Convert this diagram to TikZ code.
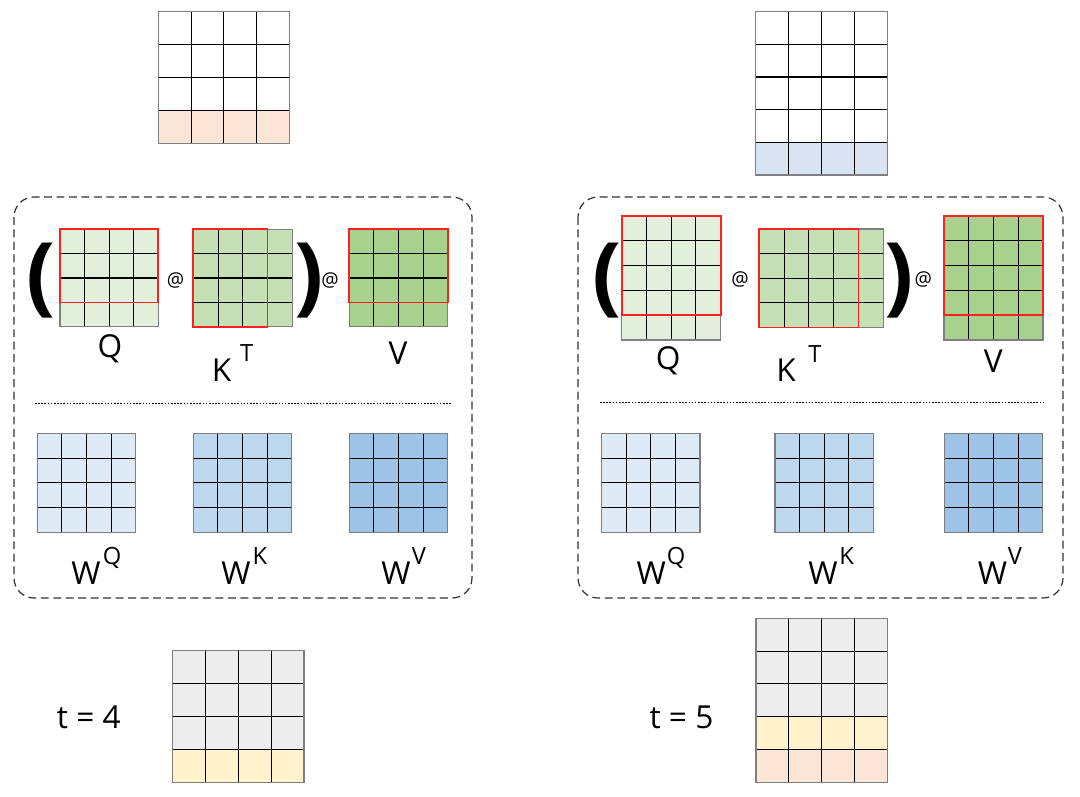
\documentclass[tikz,border=0pt]{standalone}
\usepackage{fontspec}
\setmainfont{Open Sans}
\definecolor{peach}{HTML}{FBE5D6}
\definecolor{lav}{HTML}{DAE3F3}
\definecolor{ylw}{HTML}{FFF2CC}
\definecolor{lgray}{HTML}{EDEDED}
\definecolor{qg}{HTML}{E2EFDA}
\definecolor{kg}{HTML}{C5E0B4}
\definecolor{vg}{HTML}{A9D18E}
\definecolor{wq}{HTML}{DEEBF7}
\definecolor{wk}{HTML}{BDD7EE}
\definecolor{wv}{HTML}{9DC3E6}
\definecolor{bordergray}{HTML}{7F7F7F}
\definecolor{redline}{HTML}{FF2020}
\tikzset{
  gridbg/.style={draw=none,inner sep=0pt,outer sep=0pt},
  gridline/.style={draw=black,line width=0.6pt},
  gridborder/.style={draw=bordergray,line width=0.8pt},
  redbox/.style={draw=redline,line width=1pt},
  dbox/.style={draw=black!80,line width=0.7pt,dash pattern=on 4.5pt off 2.6pt,rounded corners=0.4cm},
  dotline/.style={draw=black,line width=0.8pt,dash pattern=on 0.9pt off 0.9pt},
  biglbl/.style={inner sep=0pt,anchor=base,font=\fontsize{18}{18}\selectfont},
  suplbl/.style={inner sep=0pt,anchor=base,font=\fontsize{13.5}{13.5}\selectfont},
  atlbl/.style={inner sep=0pt,font=\fontsize{11}{11}\selectfont},
  paren/.style={inner sep=0pt,font=\fontsize{49}{49}\selectfont\bfseries},
}
% #1 name, #2 x, #3 y, #4 cols, #5 rows, #6 cell w, #7 cell h, #8 fill, #9 extra fills
\newcommand{\mgrid}[9]{%
  \node[gridbg,fill=#8,minimum width={#4*#6*0.02cm},minimum height={#5*#7*0.02cm},anchor=north west] (#1) at (#2,#3) {};
  #9
  \pgfmathtruncatemacro\ncm{#4-1}%
  \pgfmathtruncatemacro\nrm{#5-1}%
  \foreach \k in {1,...,\ncm} {\draw[gridline] ({#2+\k*#6},#3) -- ({#2+\k*#6},{#3+#5*#7});}
  \foreach \k in {1,...,\nrm} {\draw[gridline] (#2,{#3+\k*#7}) -- ({#2+#4*#6},{#3+\k*#7});}
  \draw[gridborder] (#1.north west) rectangle (#1.south east);
}
\begin{document}
\begin{tikzpicture}[x=0.02cm,y=-0.02cm]
\useasboundingbox (0,0) rectangle (1080,797);
% ---------------- left (t = 4) ----------------
\mgrid{top1}{158.3}{11.7}{4}{4}{32.75}{32.9}{white}{\fill[peach] (158.3,110.4) rectangle (289.3,143.3);}
\draw[dbox] (14,197) rectangle (472,598);
\mgrid{Q1}{60}{229.3}{4}{4}{24.6}{24.35}{qg}{}
\draw[redbox] (Q1.north west) rectangle (158.3,302.4);
\mgrid{K1}{193.3}{229.3}{4}{4}{24.75}{24.35}{kg}{}
\draw[redbox] (K1.north west) rectangle (267.5,326.7);
\mgrid{V1}{349.3}{229.3}{4}{4}{24.6}{24.35}{vg}{}
\draw[redbox] (V1.north west) rectangle (447.7,302.4);
\node[paren] (lp1) at (41.5,281) {(};
\node[paren] (rp1) at (309,281) {)};
\node[atlbl] (at1a) at (175.5,280) {@};
\node[atlbl] (at1b) at (330,280) {@};
\node[biglbl] (q1) at (110,358) {Q};
\node[biglbl] (k1) at (221.7,381.7) {K};
\node[suplbl] (t1) at (246.7,361.7) {T};
\node[biglbl] (v1) at (398,365) {V};
\draw[dotline] (35,403.3) -- (451.7,403.3);
\mgrid{WQ1}{37.3}{433.3}{4}{4}{24.6}{24.75}{wq}{}
\mgrid{WK1}{193.3}{433.3}{4}{4}{24.6}{24.75}{wk}{}
\mgrid{WV1}{349.3}{433.3}{4}{4}{24.6}{24.75}{wv}{}
\node[biglbl] (wq1) at (86,585) {W};
\node[suplbl] (wq1s) at (112,565) {Q};
\node[biglbl] (wk1) at (236,585) {W};
\node[suplbl] (wk1s) at (260,565) {K};
\node[biglbl] (wv1) at (396,585) {W};
\node[suplbl] (wv1s) at (419,565) {V};
\mgrid{bot1}{172.7}{650.7}{4}{4}{32.8}{33}{lgray}{\fill[ylw] (172.7,749.7) rectangle (303.9,782.7);}
\node[biglbl] (time1) at (88.8,728.3) {t = 4};
% ---------------- right (t = 5) ----------------
\mgrid{top2}{755.7}{11.7}{4}{5}{32.9}{32.66}{white}{\fill[lav] (755.7,142.3) rectangle (887.3,175);}
\draw[dbox] (578,197) rectangle (1063,598);
\mgrid{Q2}{621.7}{216}{4}{5}{24.75}{24.8}{qg}{}
\draw[redbox] (Q2.north west) rectangle (720.7,315.2);
\mgrid{K2}{759.3}{229}{5}{4}{24.8}{24.6}{kg}{}
\draw[redbox] (K2.north west) rectangle (858.5,327.4);
\mgrid{V2}{944}{216}{4}{5}{24.7}{24.8}{vg}{}
\draw[redbox] (V2.north west) rectangle (1042.8,315.2);
\node[paren] (lp2) at (607,281) {(};
\node[paren] (rp2) at (899,281) {)};
\node[atlbl] (at2a) at (740,279) {@};
\node[atlbl] (at2b) at (923.3,279) {@};
\node[biglbl] (q2) at (668.3,370) {Q};
\node[biglbl] (k2) at (786,381.7) {K};
\node[suplbl] (t2) at (815,363) {T};
\node[biglbl] (v2) at (993.3,373) {V};
\draw[dotline] (600,402.3) -- (1045,402.3);
\mgrid{WQ2}{601.7}{433.3}{4}{4}{24.6}{24.75}{wq}{}
\mgrid{WK2}{775}{433.3}{4}{4}{24.6}{24.75}{wk}{}
\mgrid{WV2}{944.3}{433.3}{4}{4}{24.6}{24.75}{wv}{}
\node[biglbl] (wq2) at (651.3,585) {W};
\node[suplbl] (wq2s) at (676,565) {Q};
\node[biglbl] (wk2) at (823,585) {W};
\node[suplbl] (wk2s) at (846.7,565) {K};
\node[biglbl] (wv2) at (992.5,585) {W};
\node[suplbl] (wv2s) at (1015,565) {V};
\mgrid{bot2}{756}{618.3}{4}{5}{32.8}{32.8}{lgray}{\fill[ylw] (756,716.7) rectangle (887.2,749.5);\fill[peach] (756,749.5) rectangle (887.2,782.3);}
\node[biglbl] (time2) at (681.5,728.3) {t = 5};
\end{tikzpicture}
\end{document}
